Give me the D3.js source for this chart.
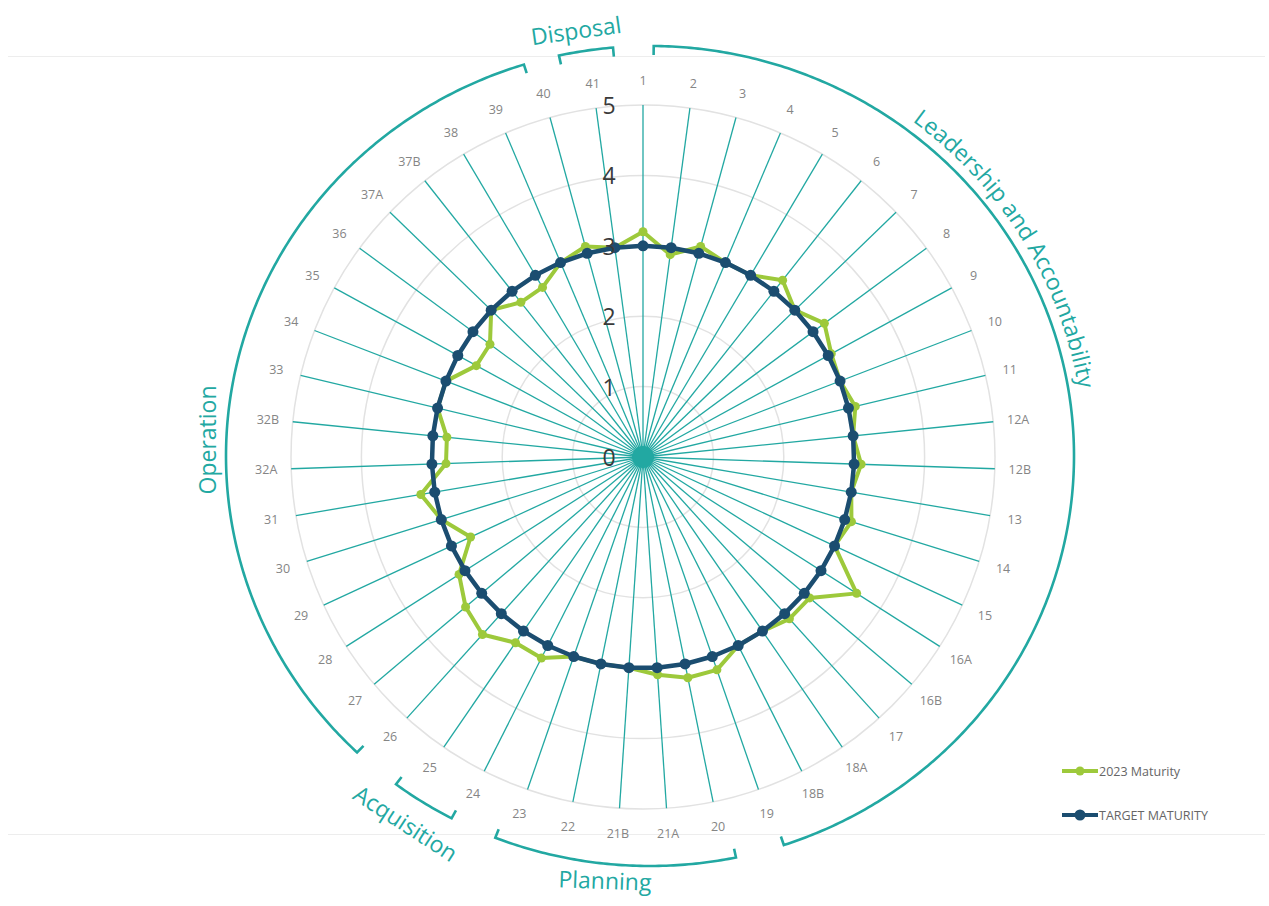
<!DOCTYPE html>
<html>
<head>
<meta charset="utf-8">
<script src="https://cdn.jsdelivr.net/npm/d3@7"></script>
<style>
    body { margin: 0; background: #fff; }
</style>
</head>
<body>
<div id="chart"></div>
<script>
const categories = ["1", "2", "3", "4", "5", "6", "7", "8", "9", "10", "11", "12A", "12B", "13", "14", "15",
    "16A", "16B", "17", "18A", "18B", "19", "20", "21A", "21B", "22", "23", "24", "25", "26", "27", "28",
    "29", "30", "31", "32A", "32B", "33", "34", "35", "36", "37A", "37B", "38", "39", "40", "41"];

const maturity2023 = [3.2, 2.9, 3.1, 3.0, 3.0, 3.2, 3.0, 3.2, 3.05, 3.0, 3.1, 3.0, 3.1, 3.0, 3.1, 3.0,
    3.6, 3.1, 3.1, 3.0, 3.0, 3.2, 3.2, 3.1, 3.0, 3.0, 3.0, 3.2, 3.2, 3.4, 3.3, 3.1,
    2.7, 3.0, 3.2, 2.8, 2.8, 3.0, 3.0, 2.7, 2.7, 3.0, 2.8, 2.8, 3.0, 3.1, 3.0];

const targetMaturity = [3, 3, 3, 3, 3, 3, 3, 3, 3, 3, 3, 3, 3, 3, 3, 3,
    3, 3, 3, 3, 3, 3, 3, 3, 3, 3, 3, 3, 3, 3, 3, 3,
    3, 3, 3, 3, 3, 3, 3, 3, 3, 3, 3, 3, 3, 3, 3];

const ringTicks = [0, 1, 2, 3, 4, 5];

const seriesNames = ["2023 Maturity", "TARGET MATURITY"];

const sectionNames = ["Leadership and Accountability", "Planning", "Acquisition", "Operation", "Disposal"];

class RadarChart {
    constructor(parentElement) {
        this.parentElement = parentElement;
        this.teal = "#22a8a2";
        this.colors = ["#9dc93b", "#1b4d70"];
        this.initVis();
    }

    initVis() {
        let vis = this;

        vis.width = 1269;
        vis.height = 906;
        vis.cx = 643;
        vis.cy = 457;
        vis.radius = 352;

        vis.svg = d3.select("#" + vis.parentElement).append("svg")
            .attr("width", vis.width)
            .attr("height", vis.height);

        // faint plot-area edges (top and bottom)
        vis.svg.selectAll(".frame")
            .data([56.5, 834.5])
            .enter().append("line")
            .attr("class", "frame")
            .attr("x1", 8).attr("x2", 1265)
            .attr("y1", d => d).attr("y2", d => d)
            .attr("stroke", "#ededed");

        vis.g = vis.svg.append("g")
            .attr("transform", "translate(" + vis.cx + "," + vis.cy + ")");

        vis.r = d3.scaleLinear()
            .domain([0, 5])
            .range([0, vis.radius]);

        let n = categories.length;
        vis.angle = d3.scalePoint()
            .domain(categories)
            .range([0, 2 * Math.PI * (n - 1) / n]);

        vis.wrangleData();
    }

    wrangleData() {
        let vis = this;

        let values = [maturity2023, targetMaturity];
        vis.series = seriesNames.map((name, s) => {
            return {
                name: name,
                color: vis.colors[s],
                points: categories.map((c, i) => ({cat: c, value: values[s][i]}))
            };
        });

        vis.updateVis();
    }

    px(a, rad) { return rad * Math.sin(a); }
    py(a, rad) { return -rad * Math.cos(a); }

    updateVis() {
        let vis = this;

        // rings
        vis.g.selectAll(".ring")
            .data(ringTicks.filter(d => d > 0))
            .enter().append("circle")
            .attr("class", "ring")
            .attr("r", d => vis.r(d))
            .attr("fill", "none")
            .attr("stroke", "#e2e2e2")
            .attr("stroke-width", 1.5);

        // spokes
        vis.g.selectAll(".spoke")
            .data(categories)
            .enter().append("line")
            .attr("class", "spoke")
            .attr("x1", 0).attr("y1", 0)
            .attr("x2", d => vis.px(vis.angle(d), vis.r(5)))
            .attr("y2", d => vis.py(vis.angle(d), vis.r(5)))
            .attr("stroke", vis.teal)
            .attr("stroke-width", 1.3);

        vis.g.append("circle")
            .attr("r", 11)
            .attr("fill", vis.teal);

        // category labels
        vis.g.selectAll(".catLabel")
            .data(categories)
            .enter().append("text")
            .attr("class", "catLabel")
            .text(d => d)
            .attr("x", d => vis.px(vis.angle(d), vis.r(5) + 25))
            .attr("y", d => vis.py(vis.angle(d), vis.r(5) + 25))
            .attr("text-anchor", "middle")
            .attr("dominant-baseline", "central")
            .attr("font-family", "'Open Sans', sans-serif")
            .attr("font-size", 12.5)
            .attr("fill", "#858585");

        // series
        let radial = d3.lineRadial()
            .angle(d => vis.angle(d.cat))
            .radius(d => vis.r(d.value))
            .curve(d3.curveLinearClosed);

        let widths = [4, 4.5];
        let dots = [4.5, 5.5];

        vis.series.forEach((s, k) => {
            vis.g.append("path")
                .datum(s.points)
                .attr("d", radial)
                .attr("fill", "none")
                .attr("stroke", s.color)
                .attr("stroke-width", widths[k])
                .attr("stroke-linejoin", "round");

            vis.g.selectAll(".dot" + k)
                .data(s.points)
                .enter().append("circle")
                .attr("class", "dot" + k)
                .attr("cx", d => vis.px(vis.angle(d.cat), vis.r(d.value)))
                .attr("cy", d => vis.py(vis.angle(d.cat), vis.r(d.value)))
                .attr("r", dots[k])
                .attr("fill", s.color);
        });

        // axis value labels
        vis.g.selectAll(".tickLabel")
            .data(ringTicks)
            .enter().append("text")
            .attr("class", "tickLabel")
            .text(d => d)
            .attr("x", -34)
            .attr("y", d => -vis.r(d))
            .attr("text-anchor", "middle")
            .attr("dominant-baseline", "central")
            .attr("font-family", "'Open Sans', sans-serif")
            .attr("font-size", 23)
            .attr("fill", "#3a3a3a");

        vis.drawSections();
        vis.drawLegend();
    }

    drawSections() {
        let vis = this;

        // bracket ellipse, slightly wider than tall
        let ex = 650, ey = 456, rx = 424, ry = 410;
        let deg = Math.PI / 180;
        let pt = (t, k) => [ex + rx * k * Math.sin(t * deg), ey - ry * k * Math.cos(t * deg)];

        let brackets = {
            "Leadership and Accountability": [0.5, 161.6],
            "Planning": [168.3, 201.4],
            "Acquisition": [207.9, 216.8],
            "Operation": [223.7, 342.7],
            "Disposal": [347.6, 355]
        };

        let line = d3.line();

        sectionNames.forEach(name => {
            let a = brackets[name];
            let pts = [pt(a[0], 0.978)];
            for (let t = a[0]; t < a[1]; t += 0.5) {
                pts.push(pt(t, 1));
            }
            pts.push(pt(a[1], 1));
            pts.push(pt(a[1], 0.978));
            vis.svg.append("path")
                .attr("d", line(pts))
                .attr("fill", "none")
                .attr("stroke", vis.teal)
                .attr("stroke-width", 2.6);
        });

        let font = "'Open Sans', sans-serif";

        // curved label
        let arcPts = [];
        for (let t = 20; t <= 100; t += 1) {
            arcPts.push([ex + (rx + 10) * Math.sin(t * deg), ey - (ry + 10) * Math.cos(t * deg)]);
        }
        vis.svg.append("defs").append("path")
            .attr("id", "leaderArc")
            .attr("d", line(arcPts));

        vis.svg.append("text")
            .attr("font-family", font)
            .attr("font-size", 23)
            .attr("fill", vis.teal)
            .append("textPath")
            .attr("href", "#leaderArc")
            .attr("startOffset", "49%")
            .attr("text-anchor", "middle")
            .text(sectionNames[0]);

        let flat = [
            {name: "Planning", x: 605, y: 880, rot: 2},
            {name: "Acquisition", x: 406, y: 823, rot: 33},
            {name: "Operation", x: 207, y: 440, rot: -90},
            {name: "Disposal", x: 576, y: 30, rot: -8}
        ];

        vis.svg.selectAll(".sectionLabel")
            .data(flat)
            .enter().append("text")
            .attr("class", "sectionLabel")
            .text(d => d.name)
            .attr("transform", d => "translate(" + d.x + "," + d.y + ") rotate(" + d.rot + ")")
            .attr("text-anchor", "middle")
            .attr("dominant-baseline", "central")
            .attr("font-family", font)
            .attr("font-size", 23)
            .attr("fill", vis.teal);
    }

    drawLegend() {
        let vis = this;

        let legend = vis.svg.selectAll(".legend")
            .data(vis.series)
            .enter().append("g")
            .attr("class", "legend")
            .attr("transform", (d, i) => "translate(1062," + (771 + i * 44) + ")");

        legend.append("line")
            .attr("x1", 0).attr("x2", 36)
            .attr("y1", 0).attr("y2", 0)
            .attr("stroke", d => d.color)
            .attr("stroke-width", 4);

        legend.append("circle")
            .attr("cx", 18)
            .attr("r", (d, i) => i == 0 ? 4.5 : 5.5)
            .attr("fill", d => d.color);

        legend.append("text")
            .text(d => d.name)
            .attr("x", 37)
            .attr("y", 0)
            .attr("dominant-baseline", "central")
            .attr("font-family", "'Open Sans', sans-serif")
            .attr("font-size", 12.5)
            .attr("fill", "#666");
    }
}

new RadarChart("chart");
</script>
</body>
</html>
